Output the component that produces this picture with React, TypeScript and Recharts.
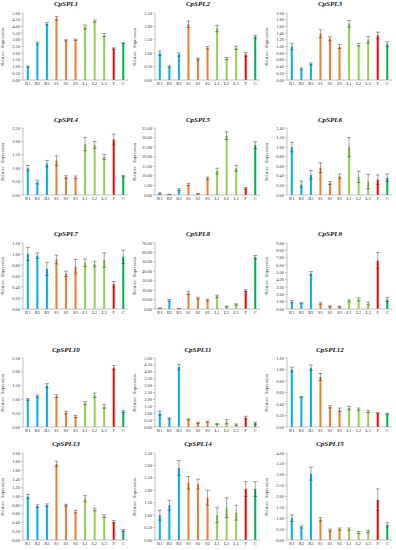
import { BarChart, Bar, XAxis, YAxis, Cell, ErrorBar } from 'recharts'

const CATEGORIES = ['R1', 'R2', 'R3', 'S1', 'S2', 'S3', 'L1', 'L2', 'L3', 'F', 'C']
const BAR_COLORS = ['#00B0F0', '#00B0F0', '#00B0F0', '#ED7D31', '#ED7D31', '#ED7D31', '#92D050', '#92D050', '#92D050', '#FF0000', '#00B050']

const TITLES = ['CpSPL1', 'CpSPL2', 'CpSPL3', 'CpSPL4', 'CpSPL5', 'CpSPL6', 'CpSPL7', 'CpSPL8', 'CpSPL9', 'CpSPL10', 'CpSPL11', 'CpSPL12', 'CpSPL13', 'CpSPL14', 'CpSPL15']
const Y_MAX = [5, 2.5, 2, 2.5, 35, 1.4, 1.2, 70, 9, 2.5, 5, 1.2, 2, 3.5, 4]
const Y_STEP = [0.5, 0.5, 0.2, 0.5, 5, 0.2, 0.2, 10, 1, 0.5, 0.5, 0.2, 0.2, 0.5, 0.5]

const spl1 = [1.0, 2.75, 4.2, 4.6, 2.95, 3.0, 3.95, 4.4, 3.35, 2.35, 2.75]
const spl2 = [1.0, 0.5, 0.95, 2.08, 0.78, 1.2, 1.92, 0.8, 1.2, 0.95, 1.62]
const spl3 = [1.0, 0.33, 0.48, 1.38, 1.23, 1.0, 1.68, 1.05, 1.2, 1.33, 1.07]
const spl4 = [1.0, 0.48, 1.17, 1.28, 0.67, 0.66, 1.9, 1.87, 1.42, 2.07, 0.7]
const spl5 = [0.8, 0.3, 2.8, 5.5, 0.6, 8.8, 12.5, 31, 14, 3.5, 26]
const spl6 = [1.0, 0.22, 0.42, 0.57, 0.25, 0.39, 1.0, 0.38, 0.28, 0.32, 0.36]
const spl7 = [1.0, 0.97, 0.73, 0.9, 0.64, 0.77, 0.84, 0.82, 0.89, 0.45, 0.95]
const spl8 = [0.8, 9.0, 0.3, 17, 11.5, 9.5, 13.5, 2.5, 4.8, 19.5, 55]
const spl9 = [1.0, 0.8, 4.85, 0.75, 0.35, 0.32, 1.1, 1.3, 0.75, 6.6, 1.3]
const spl10 = [1.0, 1.12, 1.5, 1.12, 0.52, 0.38, 0.87, 1.15, 0.75, 2.15, 0.56]
const spl11 = [1.0, 0.62, 4.35, 0.55, 0.3, 0.38, 0.22, 0.38, 0.17, 0.68, 0.28]
const spl12 = [1.0, 0.52, 1.03, 0.87, 0.35, 0.3, 0.33, 0.31, 0.27, 0.24, 0.23]
const spl13 = [1.0, 0.78, 0.8, 1.75, 0.8, 0.65, 0.95, 0.7, 0.55, 0.42, 0.22]
const spl14 = [1.0, 1.4, 2.9, 2.3, 2.25, 1.7, 1.0, 1.3, 1.1, 2.05, 2.05]
const spl15 = [1.0, 0.6, 3.05, 0.95, 0.45, 0.5, 0.5, 0.35, 0.4, 1.85, 0.7]

const err1 = [0.05, 0.08, 0.1, 0.15, 0.05, 0.05, 0.15, 0.08, 0.12, 0.05, 0.03]
const err2 = [0.08, 0.03, 0.06, 0.12, 0.04, 0.05, 0.12, 0.04, 0.06, 0.08, 0.05]
const err3 = [0.1, 0.03, 0.03, 0.12, 0.06, 0.06, 0.1, 0.04, 0.1, 0.1, 0.07]
const err4 = [0.1, 0.07, 0.12, 0.18, 0.05, 0.05, 0.25, 0.13, 0.1, 0.2, 0.03]
const err5 = [0.3, 0.1, 0.5, 0.6, 0.2, 0.6, 1.5, 2, 1.5, 0.5, 1.8]
const err6 = [0.1, 0.07, 0.09, 0.1, 0.03, 0.05, 0.2, 0.12, 0.15, 0.1, 0.08]
const err7 = [0.12, 0.05, 0.12, 0.08, 0.05, 0.13, 0.07, 0.05, 0.13, 0.05, 0.12]
const err8 = [0.3, 1, 0.2, 1.8, 1, 1, 1.2, 0.5, 0.7, 1, 1.8]
const err9 = [0.15, 0.07, 0.25, 0.12, 0.07, 0.07, 0.15, 0.2, 0.2, 1.1, 0.3]
const err10 = [0.03, 0.04, 0.07, 0.05, 0.05, 0.04, 0.05, 0.08, 0.07, 0.08, 0.03]
const err11 = [0.15, 0.05, 0.2, 0.05, 0.05, 0.05, 0.04, 0.15, 0.05, 0.1, 0.08]
const err12 = [0.04, 0.01, 0.05, 0.06, 0.02, 0.03, 0.03, 0.02, 0.02, 0.01, 0.01]
const err13 = [0.05, 0.03, 0.03, 0.06, 0.02, 0.03, 0.07, 0.03, 0.03, 0.03, 0.02]
const err14 = [0.2, 0.2, 0.3, 0.25, 0.2, 0.3, 0.3, 0.4, 0.3, 0.3, 0.3]
const err15 = [0.15, 0.05, 0.3, 0.08, 0.05, 0.05, 0.05, 0.05, 0.05, 0.5, 0.1]

const VALUES = [spl1, spl2, spl3, spl4, spl5, spl6, spl7, spl8, spl9, spl10, spl11, spl12, spl13, spl14, spl15]
const ERRORS = [err1, err2, err3, err4, err5, err6, err7, err8, err9, err10, err11, err12, err13, err14, err15]

// layout of the 5 rows: title centre, plot top, plot bottom
const ROWS = [
  { title: 4, top: 13, bottom: 80 },
  { title: 120, top: 128, bottom: 195 },
  { title: 234, top: 243, bottom: 309 },
  { title: 350, top: 358, bottom: 427 },
  { title: 444, top: 453, bottom: 540 },
]
const COL_W = 132
const FONT = '"Liberation Serif", "DejaVu Serif", serif'
const GRID_TICKS = CATEGORIES.map((_, i) => i).concat([CATEGORIES.length])

function Panel({ idx }: { idx: number }) {
  const row = ROWS[Math.floor(idx / 3)]
  const colX = (idx % 3) * COL_W
  const yMax = Y_MAX[idx]
  const step = Y_STEP[idx]
  const ticks: number[] = []
  for (let i = 0; i <= Math.round(yMax / step); i++) ticks.push(+(i * step).toFixed(2))
  const data = CATEGORIES.map((c, i) => ({ name: c, value: VALUES[idx][i], err: ERRORS[idx][i] }))
  const mTop = 4
  const xH = 10
  const h = row.bottom - row.top + mTop + xH

  return (
    <>
      <div
        style={{
          position: 'absolute', left: colX, width: COL_W, top: row.title - 4, lineHeight: '8px',
          textAlign: 'center', fontSize: 7, fontStyle: 'italic', fontWeight: 'bold', fontFamily: FONT, color: '#111',
        }}
      >
        {TITLES[idx]}
      </div>
      <div
        style={{
          position: 'absolute', left: colX + 3 - 30, width: 60, top: (row.top + row.bottom) / 2 - 3, lineHeight: '6px',
          textAlign: 'center', fontSize: 4.4, fontFamily: FONT, color: '#333', whiteSpace: 'pre', transform: 'rotate(-90deg)',
        }}
      >
        {'Relative   Expression'}
      </div>
      <div style={{ position: 'absolute', left: colX, top: row.top - mTop }}>
        <BarChart width={COL_W} height={h} data={data} margin={{ top: mTop, right: 4, left: 0, bottom: 0 }} barCategoryGap="40%">
          <XAxis
            xAxisId="grid" type="number" domain={[0, CATEGORIES.length]} ticks={GRID_TICKS} height={0}
            tick={false} tickSize={2} axisLine={false} tickLine={{ stroke: '#999', strokeWidth: 0.6 }} allowDataOverflow
          />
          <XAxis
            xAxisId="cat" dataKey="name" height={xH} interval={0} tickSize={0} tickMargin={2}
            axisLine={{ stroke: '#999', strokeWidth: 0.6 }} tickLine={false}
            tick={{ fontSize: 4.6, fill: '#333', fontFamily: FONT }}
          />
          <YAxis
            width={23} domain={[0, yMax]} ticks={ticks} interval={0} tickSize={2} tickMargin={1}
            axisLine={{ stroke: '#999', strokeWidth: 0.6 }} tickLine={{ stroke: '#999', strokeWidth: 0.6 }}
            tick={{ fontSize: 4.4, fill: '#333', fontFamily: FONT }} tickFormatter={(v: number) => v.toFixed(2)}
          />
          <Bar xAxisId="cat" dataKey="value" isAnimationActive={false}>
            {data.map((d, i) => (
              <Cell key={d.name} fill={BAR_COLORS[i]} />
            ))}
            <ErrorBar dataKey="err" width={2} stroke="#444" strokeWidth={0.5} />
          </Bar>
        </BarChart>
      </div>
    </>
  )
}

export default function App() {
  return (
    <div style={{ position: 'absolute', left: 0, top: 0, width: 396, height: 550, background: '#fff', overflow: 'hidden' }}>
      {TITLES.map((t, i) => (
        <Panel key={t} idx={i} />
      ))}
    </div>
  )
}
